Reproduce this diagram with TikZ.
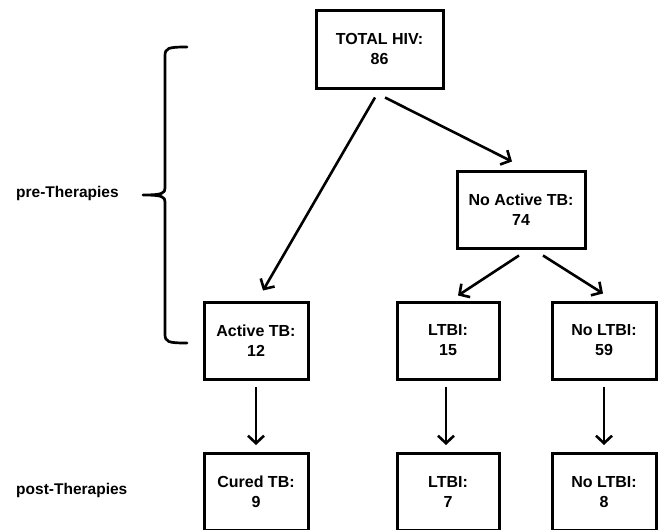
\documentclass[tikz,border=0pt]{standalone}
\usepackage{fontspec}
\setmainfont{Liberation Sans}
\usetikzlibrary{arrows.meta,calc}
\tikzset{
  box/.style={draw=black, line width=3pt, minimum height=77pt, inner sep=0pt,
    align=center, font=\fontsize{16}{20}\selectfont\bfseries},
  arr/.style={line width=2.6pt, -{Straight Barb[length=7.5pt, width=16pt, line width=2.6pt]}},
  lab/.style={anchor=west, inner sep=0pt, font=\fontsize{15.5}{18}\selectfont\bfseries},
}
\begin{document}
\begin{tikzpicture}[x=1pt, y=-1pt]
\useasboundingbox (0,0) rectangle (664,530);
\fill[white] (0,0) rectangle (664,530);
\node[box, minimum width=127pt, minimum height=78pt] (top) at (379.5,49) {TOTAL HIV:\\86};
\node[box, minimum width=128pt] (noact) at (521,209.5) {No Active TB:\\74};
\node[box, minimum width=104pt] (act) at (256,340.5) {Active TB:\\12};
\node[box, minimum width=102pt] (ltbi) at (448,340.5) {LTBI:\\15};
\node[box, minimum width=104pt] (noltbi) at (604,340.5) {No LTBI:\\59};
\node[box, minimum width=104pt] (cured) at (256,492) {Cured TB:\\9};
\node[box, minimum width=102pt] (ltbi2) at (448,492) {LTBI:\\7};
\node[box, minimum width=104pt] (noltbi2) at (604,492) {No LTBI:\\8};

\draw[arr] ($(top.south)+(-4.5,8)$) -- ($(act.north)+(7,-10)$);
\draw[arr] ($(top.south)+(5.5,8)$) -- ($(noact.north)+(-9,-8)$);
\draw[arr] ($(noact.south)+(-2,6)$) -- ($(ltbi.north)+(10,-5)$);
\draw[arr] ($(noact.south)+(22,6)$) -- ($(noltbi.north)+(-1,-7)$);
\draw[arr] ($(act.south)+(0,6)$) -- ($(cured.north)+(0,-7)$);
\draw[arr] ($(ltbi.south)+(-2,6)$) -- ($(ltbi2.north)+(-2,-7)$);
\draw[arr] ($(noltbi.south)+(0,6)$) -- ($(noltbi2.north)+(0,-7)$);

\node[lab] (pre) at (16,193) {pre-Therapies};
\node[lab] (post) at (16,490) {post-Therapies};

\coordinate (btop) at (187,47);
\coordinate (bmid) at (143,195);
\coordinate (bbot) at (187,343);
\draw[line width=2.7pt, line cap=round, line join=round]
  (btop) .. controls (168,47) and (165,48) .. (165,56) -- (165,188)
  .. controls (165,193) and (163,195) .. (bmid)
  .. controls (163,195) and (165,197) .. (165,202) -- (165,334)
  .. controls (165,342) and (168,343) .. (bbot);
\end{tikzpicture}
\end{document}
